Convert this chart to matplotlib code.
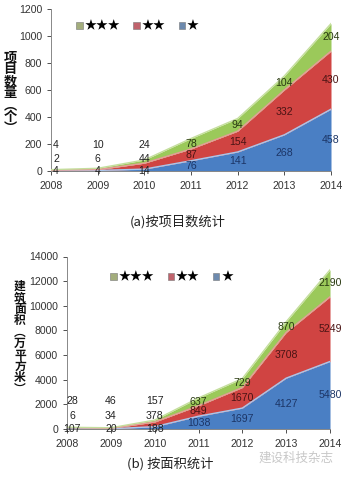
import numpy as np
import matplotlib
matplotlib.use('Agg')
import matplotlib.pyplot as plt
from matplotlib.patches import Patch

plt.rcParams['font.family'] = ['Liberation Sans', 'Noto Sans CJK SC', 'DejaVu Sans']

years = [2008, 2009, 2010, 2011, 2012, 2013, 2014]
series_names = ['★★★', '★★', '★']

# project counts
count_1star = [4, 4, 14, 76, 141, 268, 458]
count_2star = [2, 6, 44, 87, 154, 332, 430]
count_3star = [4, 10, 24, 78, 94, 104, 204]

# floor area, 10k m2
area_1star = [107, 20, 188, 1038, 1697, 4127, 5480]
area_2star = [6, 34, 378, 849, 1670, 3708, 5249]
area_3star = [28, 46, 157, 637, 729, 870, 2190]

fill_colors = ['#4a7fc4', '#d04442', '#9bc95a']   # 1 star, 2 star, 3 star
edge_colors = ['#a9c7ec', '#e89a98', '#c4de9c']
text_colors = ['#1c3566', '#4a1414', '#2a3a12']
patch_colors = ['#a3ad7c', '#c0636c', '#6d8aae']  # legend order: 3, 2, 1

cjk = ['Noto Sans CJK SC', 'DejaVu Sans']


def draw_stack(ax, s1, s2, s3, ymax, step, leg_x, leg_y):
    x = np.array(years)
    layers = [np.array(s1), np.array(s2), np.array(s3)]
    base = np.zeros(len(x))
    for i, vals in enumerate(layers):
        top = base + vals
        ax.fill_between(x, base, top, color=fill_colors[i], lw=0, zorder=2 + i * 0.1)
        ax.plot(x, top, color=edge_colors[i], lw=1.0, zorder=3)
        for j in range(len(x)):
            if j < 3:
                # small early values sit in fixed rows above the axis
                y = [0, 0.075, 0.16][i] * ymax
                c = '#222222'
            else:
                y = base[j] + vals[j] / 2
                c = text_colors[i]
            dx = 5 if j == 0 else 0
            ax.annotate(str(vals[j]), (x[j], y), xytext=(dx, 0), textcoords='offset pixels',
                        ha='center', va='center', fontsize=7.6, color=c, zorder=5,
                        annotation_clip=False)
        base = top

    ax.set_xlim(2008, 2014)
    ax.set_ylim(0, ymax)
    ax.set_xticks(years)
    ax.set_yticks(np.arange(0, ymax + 1, step))
    ax.tick_params(labelsize=7.6, colors='#333333', length=3, width=0.6)
    ax.tick_params(axis='x', pad=4)
    for side in ['top', 'right']:
        ax.spines[side].set_visible(False)
    for side in ['left', 'bottom']:
        ax.spines[side].set_color('#888888')
        ax.spines[side].set_linewidth(0.7)

    handles = [Patch(facecolor=c, edgecolor='#777777', lw=0.4) for c in patch_colors]
    leg = ax.legend(handles, series_names, loc='center left', ncol=3, frameon=False,
                    bbox_to_anchor=(leg_x, leg_y), borderpad=0, borderaxespad=0,
                    handlelength=0.55, handleheight=0.55,
                    handletextpad=0.15, columnspacing=1.1, fontsize=8.6)
    for t in leg.get_texts():
        t.set_family(cjk)


fig = plt.figure(figsize=(3.44, 4.83), dpi=100)

ax1 = fig.add_axes([51 / 344, 1 - 171 / 483, 280 / 344, 162 / 483])
draw_stack(ax1, count_1star, count_2star, count_3star, 1200, 200, 0.09, 0.895)

ax2 = fig.add_axes([67 / 344, 1 - 429 / 483, 263 / 344, 172.5 / 483])
draw_stack(ax2, area_1star, area_2star, area_3star, 14000, 2000, 0.165, 0.88)

# vertical y-axis titles, one character per line
fig.text(10 / 344, 1 - 93 / 483, '\n'.join('项目数量︵个︶'), ha='center', va='center',
         fontsize=9.5, fontweight='bold', family=cjk, linespacing=0.80, color='#111111')
fig.text(20 / 344, 1 - 338 / 483, '\n'.join('建筑面积︵万平方米︶'), ha='center', va='center',
         fontsize=8.5, fontweight='bold', family=cjk, linespacing=0.84, color='#111111')

fig.text(178 / 344, 1 - 222 / 483, '(a)按项目数统计', ha='center', va='center',
         fontsize=9.5, family=cjk, color='#222222')
fig.text(170 / 344, 1 - 464 / 483, '(b) 按面积统计', ha='center', va='center',
         fontsize=9.5, family=cjk, color='#222222')
fig.text(296 / 344, 1 - 458 / 483, '建设科技杂志', ha='center', va='center',
         fontsize=9, family=cjk, color='#c8c8c8')

fig.savefig('out.png', dpi=100)
